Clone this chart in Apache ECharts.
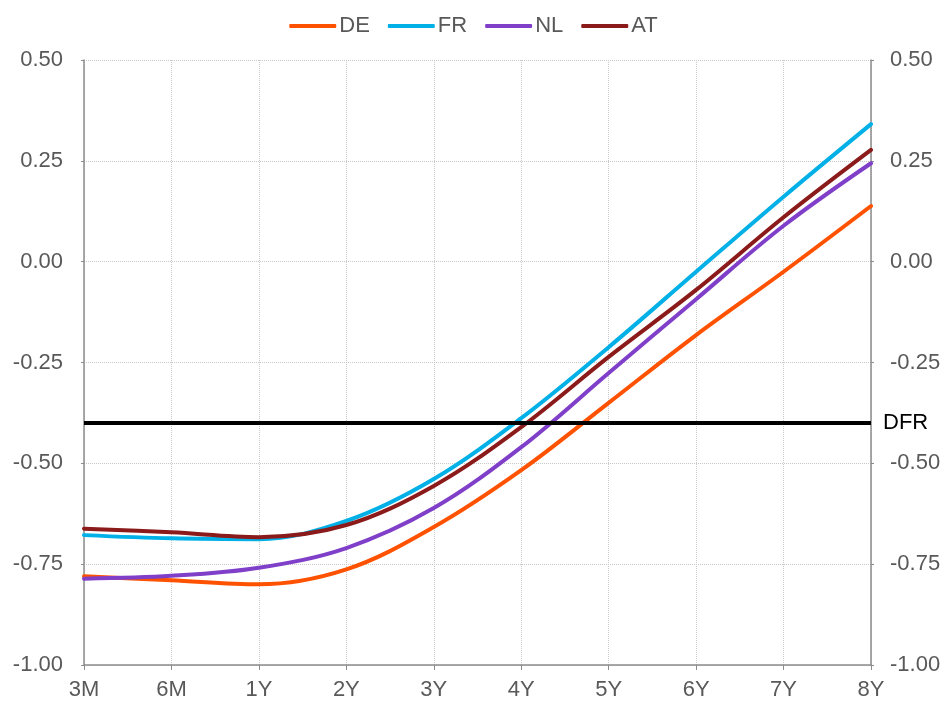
<!DOCTYPE html>
<html><head><meta charset="utf-8">
<script src="https://cdn.jsdelivr.net/npm/echarts@6/dist/echarts.min.js"></script>
<style>html,body{margin:0;padding:0;background:#fff}#c{width:947px;height:706px}</style>
</head><body><div id="c"></div>
<script>
const categories = ['3M','6M','1Y','2Y','3Y','4Y','5Y','6Y','7Y','8Y'];
const DE = [-0.780,-0.790,-0.800,-0.763,-0.658,-0.517,-0.350,-0.182,-0.025,0.138];
const FR = [-0.678,-0.686,-0.688,-0.643,-0.539,-0.388,-0.212,-0.025,0.161,0.341];
const NL = [-0.786,-0.779,-0.759,-0.710,-0.611,-0.460,-0.276,-0.093,0.089,0.244];
const AT = [-0.662,-0.671,-0.683,-0.653,-0.556,-0.410,-0.236,-0.070,0.110,0.277];
const DFR = -0.40;
const yTicks = {min:-1, max:0.5, interval:0.25};

const colors = {DE:'#ff5200', FR:'#00b0e6', NL:'#7f3fc8', AT:'#8b1a1a'};
const fontFam = 'Liberation Sans, Arial, sans-serif';
const FS = 22;
const mkLine = (name, data) => ({
  name, type:'line', data, smooth:0.35, symbol:'none',
  lineStyle:{width:4, color:colors[name], cap:'round'}, itemStyle:{color:colors[name]}
});
const yAxisCommon = (pos) => ({
  type:'value', position:pos, min:yTicks.min, max:yTicks.max, interval:yTicks.interval,
  axisLine:{show:true, lineStyle:{color:'#8c8c8c', width:1.5}},
  axisTick:{show:true, length:3, lineStyle:{color:'#8c8c8c'}},
  splitLine:{show:pos==='left', lineStyle:{color:'#c8c8c8', type:'dotted'}},
  axisLabel:{color:'#595959', fontSize:FS, fontFamily:fontFam, margin: pos==='left'?21:19,
    formatter:v=>v.toFixed(2)}
});
const chart = echarts.init(document.getElementById('c'));
chart.setOption({
  animation:false,
  legend:{top:10, left:'center', itemWidth:47, itemHeight:4, itemGap:18,
    icon:'roundRect',
    textStyle:{color:'#595959', fontSize:FS, fontFamily:fontFam, padding:[0,0,0,-2]},
    data:['DE','FR','NL','AT']},
  grid:{left:84, right:76, top:60, bottom:41},
  xAxis:{type:'category', data:categories, boundaryGap:false,
    axisLine:{onZero:false, lineStyle:{color:'#8c8c8c', width:1.5}},
    axisTick:{show:true, length:5, alignWithLabel:true, lineStyle:{color:'#8c8c8c'}},
    splitLine:{show:true, lineStyle:{color:'#c8c8c8', type:'dotted'}},
    axisLabel:{color:'#595959', fontSize:FS, fontFamily:fontFam, margin:14}},
  yAxis:[yAxisCommon('left'), yAxisCommon('right')],
  series:[
    mkLine('DE', DE), mkLine('FR', FR), mkLine('NL', NL),
    Object.assign(mkLine('AT', AT), {
      markLine:{silent:true, symbol:'none',
        lineStyle:{color:'#000', width:4, type:'solid'},
        label:{position:'end', formatter:'DFR', color:'#000', fontSize:FS, fontFamily:fontFam, distance:12},
        data:[{yAxis:DFR}]}
    })
  ]
});
</script></body></html>
